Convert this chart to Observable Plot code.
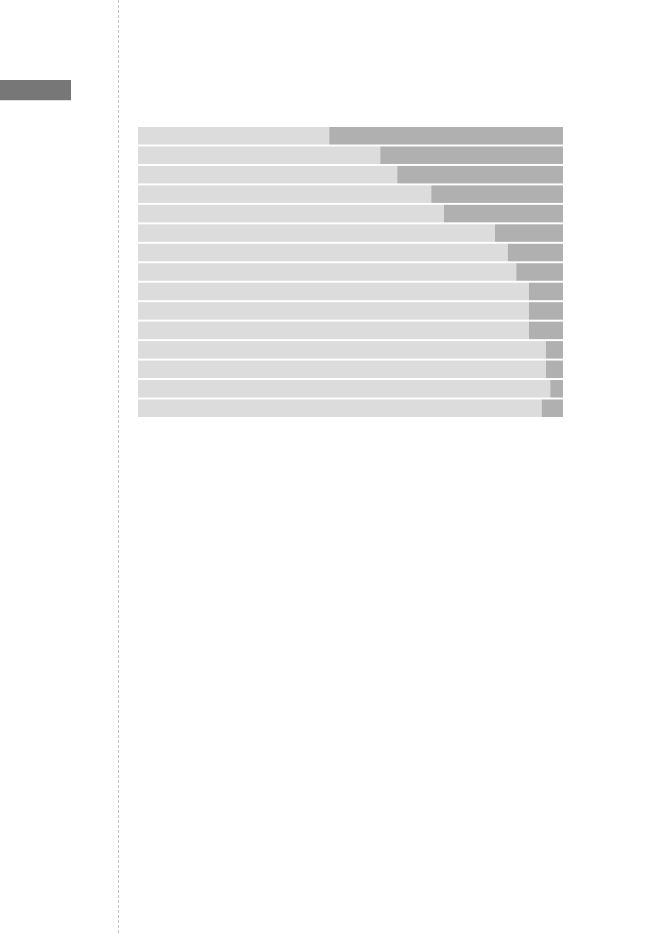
<!DOCTYPE html>
<html>
<head>
<meta charset="utf-8">
<script src="https://cdn.jsdelivr.net/npm/d3@7"></script>
<script src="https://cdn.jsdelivr.net/npm/@observablehq/plot@0.6"></script>
<style>
  html, body { margin: 0; padding: 0; background: #fff; }
  body { position: relative; width: 661px; height: 933px; overflow: hidden; font-family: "DejaVu Sans", sans-serif; }
  #tab { position: absolute; left: 0; top: 80px; width: 71px; height: 20px; background: #777777; border-bottom: 1px solid #e0e0e0; }
  #rule { position: absolute; left: 117.5px; top: 0; width: 0; height: 933px; border-left: 1px dashed #c0c0c0; }
  #chart { position: absolute; left: 0; top: 0; }
</style>
</head>
<body>
<div id="tab"></div>
<div id="rule"></div>
<div id="chart"></div>
<script>
const categories = ["1","2","3","4","5","6","7","8","9","10","11","12","13","14","15"];
const seriesA = [45, 57, 61, 69, 72, 84, 87, 89, 92, 92, 92, 96, 96, 97, 95];
const seriesB = [55, 43, 39, 31, 28, 16, 13, 11, 8, 8, 8, 4, 4, 3, 5];
const seriesNames = ["A", "B"];

const rows = [];
categories.forEach((c, i) => {
  rows.push({cat: c, series: seriesNames[0], value: seriesA[i]});
  rows.push({cat: c, series: seriesNames[1], value: seriesB[i]});
});

const chart = Plot.plot({
  width: 661,
  height: 933,
  marginLeft: 138,
  marginRight: 98,
  marginTop: 127,
  marginBottom: 516,
  x: {domain: [0, 100], axis: null},
  y: {domain: categories, axis: null, paddingInner: 0.1, paddingOuter: 0, round: false},
  color: {domain: seriesNames, range: ["#dcdcdc", "#b0b0b0"]},
  marks: [
    Plot.barX(rows, Plot.stackX({x: "value", y: "cat", fill: "series", order: seriesNames}))
  ]
});
document.getElementById("chart").appendChild(chart);
</script>
</body>
</html>
